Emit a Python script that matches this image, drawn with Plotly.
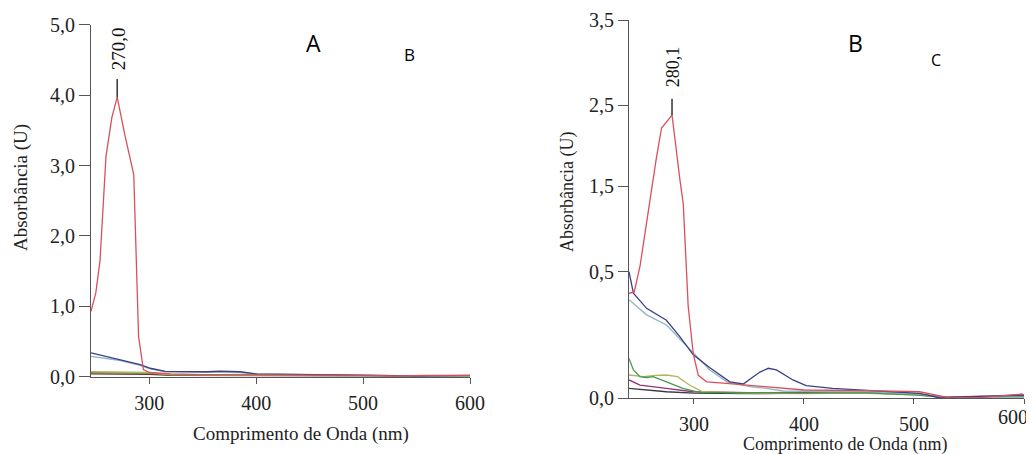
import plotly.graph_objects as go

# ---------------- Panel A data (absorbance, U) ----------------
A_WL_RED = [245.5, 250, 254, 259.5, 265, 270, 277.5, 285.5, 290, 294.5, 300, 320, 350, 400, 450, 500, 530, 560, 600]
A_RED = [0.93, 1.19, 1.66, 3.13, 3.68, 3.97, 3.41, 2.87, 0.57, 0.10, 0.06, 0.04, 0.03, 0.03, 0.03, 0.02, 0.01, 0.02, 0.02]

A_WL_NAVY = [245.5, 260, 273, 291.5, 301, 315, 354, 366, 385, 400.5, 447, 500, 550, 600]
A_NAVY = [0.34, 0.29, 0.24, 0.17, 0.12, 0.075, 0.07, 0.08, 0.07, 0.04, 0.03, 0.02, 0.01, 0.02]

A_WL_LIGHT = [245.5, 260, 273, 291.5, 301, 315, 354, 385, 400.5, 447, 500, 550, 600]
A_LIGHT = [0.29, 0.26, 0.23, 0.16, 0.11, 0.07, 0.06, 0.06, 0.035, 0.025, 0.02, 0.01, 0.015]

A_WL_LOW = [245.5, 270, 300, 320, 400, 500, 600]
A_OLIVE = [0.07, 0.065, 0.06, 0.03, 0.02, 0.015, 0.01]
A_GREEN = [0.06, 0.06, 0.05, 0.025, 0.02, 0.015, 0.01]
A_MAROON = [0.04, 0.04, 0.035, 0.02, 0.015, 0.01, 0.01]

A_PEAK_WL = 270.0
A_PEAK_LABEL = "270,0"
A_X_TICKS = [300, 400, 500, 600]
A_Y_TICKS = [0, 1, 2, 3, 4, 5]
A_Y_TICKTEXT = ["0,0", "1,0", "2,0", "3,0", "4,0", "5,0"]

# ---------------- Panel B data (on the chart's own non-uniform axis) ----------------
B_WL_RED = [241, 245.7, 251, 260, 266, 270.6, 280.1, 287.3, 290.3, 294.8, 299.4, 304, 311.5, 329.7, 366, 400, 457, 505, 523.6, 533, 563, 599]
B_RED = [0.97, 0.98, 1.22, 1.83, 2.23, 2.50, 2.62, 2.02, 1.80, 0.85, 0.41, 0.21, 0.15, 0.136, 0.105, 0.074, 0.068, 0.058, 0.019, 0.0, 0.006, 0.037]

B_WL_NAVY = [241, 245, 257, 275, 287, 299.4, 314.5, 332.7, 344.8, 360, 367.6, 375, 390, 402, 426, 457, 505, 524, 545, 600]
B_NAVY = [1.17, 0.97, 0.83, 0.72, 0.57, 0.40, 0.28, 0.15, 0.13, 0.24, 0.275, 0.26, 0.167, 0.114, 0.09, 0.074, 0.043, 0.0, 0.01, 0.028]

B_WL_TEAL = [241, 257, 275, 287, 299.4, 314.5, 330, 351, 366, 381, 426, 457, 505, 524, 600]
B_TEAL = [0.91, 0.77, 0.676, 0.55, 0.41, 0.26, 0.15, 0.105, 0.09, 0.065, 0.06, 0.06, 0.037, 0.006, 0.006]

B_WL_GREEN = [241, 245, 251, 257, 263, 275, 290, 305, 350, 400, 450, 500, 530, 600]
B_GREEN = [0.367, 0.26, 0.197, 0.19, 0.197, 0.151, 0.09, 0.053, 0.05, 0.045, 0.05, 0.03, 0.005, 0.01]

B_WL_OLIVE = [241, 254, 265, 275, 285, 296, 308, 350, 400, 450, 500, 530, 600]
B_OLIVE = [0.213, 0.197, 0.21, 0.213, 0.197, 0.12, 0.058, 0.045, 0.04, 0.045, 0.03, 0.005, 0.005]

B_WL_MAGENTA = [241, 251, 275, 299, 350, 400, 450, 500, 525, 600]
B_MAGENTA = [0.167, 0.12, 0.09, 0.058, 0.05, 0.055, 0.055, 0.04, 0.01, 0.02]

B_WL_DARK = [241, 275, 300, 350, 400, 450, 500, 530, 600]
B_DARK = [0.09, 0.058, 0.045, 0.04, 0.045, 0.05, 0.035, 0.005, 0.0]

B_PEAK_WL = 280.1
B_PEAK_LABEL = "280,1"
B_X_TICKS = [300, 400, 500, 600]
B_X_TICKTEXT = ["300", "400", "500", ""]   # last label drawn separately so it stays inside the page
B_LAST_X_LABEL = "600"
B_Y_TICK_POS = [0, 1.167, 1.963, 2.713, 3.5]
B_Y_TICKTEXT = ["0,0", "0,5", "1,5", "2,5", "3,5"]

# ---------------- colours ----------------
RED = "#d9505c"
NAVY = "#3b3f86"
TEAL = "#8db5c2"
GREEN = "#449a4c"
OLIVE = "#b7b25c"
MAGENTA = "#93307a"
DARK = "#3a3a3a"
MAROON = "#7a2a2a"

SERIF = "Liberation Serif, Times New Roman, serif"
SANS = "Open Sans, Liberation Sans, sans-serif"

fig = go.Figure()


def add_line(x, y, color, xa, ya, width=1.3):
    fig.add_trace(go.Scatter(x=x, y=y, mode="lines", line=dict(color=color, width=width),
                             xaxis=xa, yaxis=ya, showlegend=False, hoverinfo="skip"))


# Panel A
add_line(A_WL_LOW, A_MAROON, MAROON, "x", "y")
add_line(A_WL_LOW, A_GREEN, GREEN, "x", "y")
add_line(A_WL_LOW, A_OLIVE, OLIVE, "x", "y")
add_line(A_WL_LIGHT, A_LIGHT, TEAL, "x", "y")
add_line(A_WL_NAVY, A_NAVY, NAVY, "x", "y")
add_line(A_WL_RED, A_RED, RED, "x", "y")

# Panel B
add_line(B_WL_DARK, B_DARK, DARK, "x2", "y2")
add_line(B_WL_MAGENTA, B_MAGENTA, MAGENTA, "x2", "y2")
add_line(B_WL_OLIVE, B_OLIVE, OLIVE, "x2", "y2")
add_line(B_WL_GREEN, B_GREEN, GREEN, "x2", "y2")
add_line(B_WL_TEAL, B_TEAL, TEAL, "x2", "y2")
add_line(B_WL_NAVY, B_NAVY, NAVY, "x2", "y2")
add_line(B_WL_RED, B_RED, RED, "x2", "y2")

# peak markers
a_peak_y = max(A_RED)
b_peak_y = max(B_RED)
fig.add_shape(type="line", xref="x", yref="y", x0=A_PEAK_WL, x1=A_PEAK_WL,
              y0=a_peak_y, y1=a_peak_y + 0.26, line=dict(color="#333", width=1.5))
fig.add_shape(type="line", xref="x2", yref="y2", x0=B_PEAK_WL, x1=B_PEAK_WL,
              y0=b_peak_y, y1=b_peak_y + 0.15, line=dict(color="#333", width=1.5))
fig.add_annotation(x=A_PEAK_WL + 1.5, y=a_peak_y + 0.36, xref="x", yref="y", text=A_PEAK_LABEL,
                   textangle=-90, showarrow=False, xanchor="center", yanchor="bottom",
                   font=dict(family=SERIF, size=19, color="#111"))
fig.add_annotation(x=B_PEAK_WL + 0.5, y=b_peak_y + 0.24, xref="x2", yref="y2", text=B_PEAK_LABEL,
                   textangle=-90, showarrow=False, xanchor="center", yanchor="bottom",
                   font=dict(family=SERIF, size=18, color="#111"))

# page offset of the figure inside the browser page (default body margin)
OFF = 8
W, H = 1026, 446


def px(xp):
    return (xp - OFF) / W


def py(yp):
    return 1 - (yp - OFF) / H


def label(xp, yp, text, font, angle=0):
    fig.add_annotation(x=px(xp), y=py(yp), xref="paper", yref="paper", text=text,
                       textangle=angle, showarrow=False, xanchor="center", yanchor="middle",
                       font=font)


label(21, 188, "Absorbância (U)", dict(family=SERIF, size=19, color="#222"), -90)
label(301, 434, "Comprimento de Onda (nm)", dict(family=SERIF, size=19, color="#222"))
label(567, 192, "Absorbância (U)", dict(family=SERIF, size=18, color="#222"), -90)
label(845, 444, "Comprimento de Onda (nm)", dict(family=SERIF, size=18, color="#222"))

# last tick label of panel B x axis (kept inside the page edge)
fig.add_annotation(x=B_X_TICKS[-1], y=py(416.5), xref="x2", yref="paper", text=B_LAST_X_LABEL,
                   showarrow=False, xanchor="right", yanchor="middle", xshift=6,
                   font=dict(family=SERIF, size=20, color="#222"))

# panel letters
label(313, 43, "A", dict(family=SANS, size=23, color="#000"))
label(409, 55, "B", dict(family=SANS, size=17, color="#000"))
label(855, 43, "B", dict(family=SANS, size=23, color="#000"))
label(936, 60, "C", dict(family=SANS, size=16, color="#000"))

axis_common = dict(showgrid=False, zeroline=False, showline=True, linecolor="#555", linewidth=1.2,
                   ticks="outside", tickcolor="#555", tickwidth=1.2, automargin=False,
                   ticklabeloverflow="allow",
                   tickfont=dict(family=SERIF, size=20, color="#222"))

fig.update_layout(
    template="none",
    width=W, height=H,
    margin=dict(l=0, r=0, t=0, b=0, pad=0),
    paper_bgcolor="white", plot_bgcolor="white",
    showlegend=False,
    xaxis=dict(domain=[px(91), px(470)], range=[245.5, 600], tickvals=A_X_TICKS,
               ticklen=6, ticklabelstandoff=2, anchor="y", **axis_common),
    yaxis=dict(domain=[py(376.7), py(24.7)], range=[0, 5], tickvals=A_Y_TICKS, ticktext=A_Y_TICKTEXT,
               ticklen=11, anchor="x", **axis_common),
    xaxis2=dict(domain=[px(629), px(1024)], range=[241, 600], tickvals=B_X_TICKS, ticktext=B_X_TICKTEXT,
                ticklen=5, ticklabelstandoff=3, anchor="y2", **axis_common),
    yaxis2=dict(domain=[py(398), py(20)], range=[0, 3.5], tickvals=B_Y_TICK_POS, ticktext=B_Y_TICKTEXT,
                ticklen=10, anchor="x2", **axis_common),
)

fig.write_html("out.html")
